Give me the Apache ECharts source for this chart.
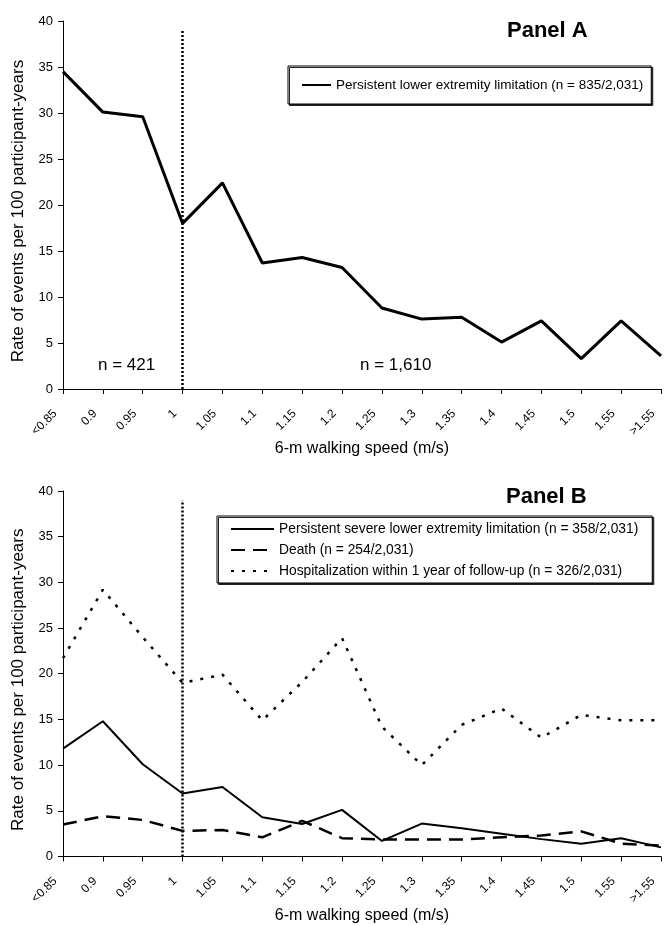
<!DOCTYPE html>
<html>
<head>
<meta charset="utf-8">
<script src="https://cdn.jsdelivr.net/npm/echarts@6/dist/echarts.min.js"></script>
<style>
html,body{margin:0;padding:0;background:#fff;}
#chart{width:666px;height:925px;}
</style>
</head>
<body>
<div id="chart"></div>
<script>
// ---- data ----
const speedCategories = ['<0.85','0.9','0.95','1','1.05','1.1','1.15','1.2','1.25','1.3','1.35','1.4','1.45','1.5','1.55','>1.55'];
const persistentLimitation = [34.5,30.1,29.6,18.0,22.4,13.7,14.3,13.2,8.8,7.6,7.8,5.1,7.4,3.3,7.4,3.6];
const severeLimitation = [11.8,14.8,10.1,6.9,7.6,4.3,3.55,5.1,1.7,3.6,3.1,2.5,1.9,1.4,2.0,1.0];
const death = [3.5,4.4,4.0,2.8,2.9,2.1,3.9,2.0,1.85,1.85,1.85,2.1,2.3,2.75,1.4,1.2];
const hospitalization = [21.7,29.2,24.0,19.0,19.9,14.9,19.1,23.9,14.2,10.0,14.4,16.2,13.0,15.5,14.9,14.9];
const cutoffCategory = '1';
const cutoffTop = 39;
const yMin = 0, yMax = 40, yStep = 5;
const nameA = 'Persistent lower extremity limitation (n = 835/2,031)';
const nameSevere = 'Persistent severe lower extremity limitation (n = 358/2,031)';
const nameDeath = 'Death (n = 254/2,031)';
const nameHosp = 'Hospitalization within 1 year of follow-up (n = 326/2,031)';
const groupLabels = ['n = 421', 'n = 1,610'];

const FONT = '"Liberation Sans", Arial, sans-serif';

function xAxisFor(gridIndex){
  return {
    type:'category', gridIndex, data:speedCategories, boundaryGap:false,
    name:'6-m walking speed (m/s)', nameLocation:'middle', nameGap:51,
    nameTextStyle:{fontFamily:FONT, fontSize:16, color:'#000'},
    axisLine:{lineStyle:{color:'#000', width:1}},
    axisTick:{show:true, length:5, lineStyle:{color:'#000'}, alignWithLabel:true, interval:0},
    axisLabel:{interval:0, rotate:45, margin:15, padding:[0,11,0,0], fontFamily:FONT, fontSize:12, color:'#000'},
    splitLine:{show:false}
  };
}
function yAxisFor(gridIndex){
  return {
    type:'value', gridIndex, min:yMin, max:yMax, interval:yStep,
    name:'Rate of events per 100 participant-years', nameLocation:'middle', nameGap:36, nameRotate:90,
    nameTextStyle:{fontFamily:FONT, fontSize:17, color:'#000', padding:[0,12,0,0]},
    axisLine:{show:true, lineStyle:{color:'#000', width:1}},
    axisTick:{show:true, length:5, lineStyle:{color:'#000'}},
    axisLabel:{margin:10, fontFamily:FONT, fontSize:13, color:'#000'},
    splitLine:{show:false}
  };
}
function cutoffLine(){
  return {
    silent:true, symbol:'none', label:{show:false},
    lineStyle:{color:'#000', type:[2,2], width:2.5},
    data:[[{coord:[cutoffCategory, yMin]}, {coord:[cutoffCategory, cutoffTop]}]]
  };
}
const hiddenSymbol = {color:'rgba(0,0,0,0)', borderWidth:0, opacity:0};

const chart = echarts.init(document.getElementById('chart'), null, {renderer:'canvas'});
const option = {
  backgroundColor:'#fff',
  animation:false,
  textStyle:{fontFamily:FONT},
  title:[
    {text:'Panel A', left:507, top:20, padding:0, textStyle:{fontFamily:FONT, fontSize:22, fontWeight:'bold', color:'#000'}},
    {text:'Panel B', left:506, top:486, padding:0, textStyle:{fontFamily:FONT, fontSize:22, fontWeight:'bold', color:'#000'}}
  ],
  grid:[
    {left:63, right:5, top:21, height:368, containLabel:false},
    {left:63, right:5, top:491, height:368, containLabel:false}
  ],
  xAxis:[xAxisFor(0), xAxisFor(1)],
  yAxis:[yAxisFor(0), yAxisFor(1)],
  legend:[
    {
      data:[nameA], left:288, top:66, orient:'horizontal',
      itemWidth:29, itemHeight:14, padding:[12,8,12,13],
      backgroundColor:'#fff', borderColor:'#000', borderWidth:1,
      shadowColor:'#222', shadowOffsetX:1.5, shadowOffsetY:1.5, shadowBlur:0,
      itemStyle:hiddenSymbol,
      textStyle:{fontFamily:FONT, fontSize:13.5, color:'#000'},
      selectedMode:false
    },
    {
      data:[nameSevere, nameDeath, nameHosp], left:217, top:516, orient:'vertical',
      itemWidth:43, itemHeight:12, itemGap:7, padding:[6,14,5,13],
      backgroundColor:'#fff', borderColor:'#000', borderWidth:1,
      shadowColor:'#222', shadowOffsetX:1.5, shadowOffsetY:1.5, shadowBlur:0,
      itemStyle:hiddenSymbol,
      textStyle:{fontFamily:FONT, fontSize:13.8, color:'#000'},
      selectedMode:false
    }
  ],
  series:[
    {
      name:nameA, type:'line', xAxisIndex:0, yAxisIndex:0, data:persistentLimitation,
      symbol:'none', lineStyle:{color:'#000', width:3}, itemStyle:{color:'#000'},
      markLine:cutoffLine()
    },
    {
      name:nameSevere, type:'line', xAxisIndex:1, yAxisIndex:1, data:severeLimitation,
      symbol:'none', lineStyle:{color:'#000', width:2}, itemStyle:{color:'#000'},
      markLine:cutoffLine()
    },
    {
      name:nameDeath, type:'line', xAxisIndex:1, yAxisIndex:1, data:death,
      symbol:'none', lineStyle:{color:'#000', width:2.5, type:[14,8]}, itemStyle:{color:'#000'}
    },
    {
      name:nameHosp, type:'line', xAxisIndex:1, yAxisIndex:1, data:hospitalization,
      symbol:'none', lineStyle:{color:'#000', width:2.5, type:[3,8]}, itemStyle:{color:'#000'}
    }
  ],
  graphic:[
    {type:'text', left:98, top:357, style:{text:groupLabels[0], font:'17px ' + FONT, fill:'#000'}},
    {type:'text', left:360, top:357, style:{text:groupLabels[1], font:'17px ' + FONT, fill:'#000'}}
  ]
};
chart.setOption(option);
</script>
</body>
</html>
